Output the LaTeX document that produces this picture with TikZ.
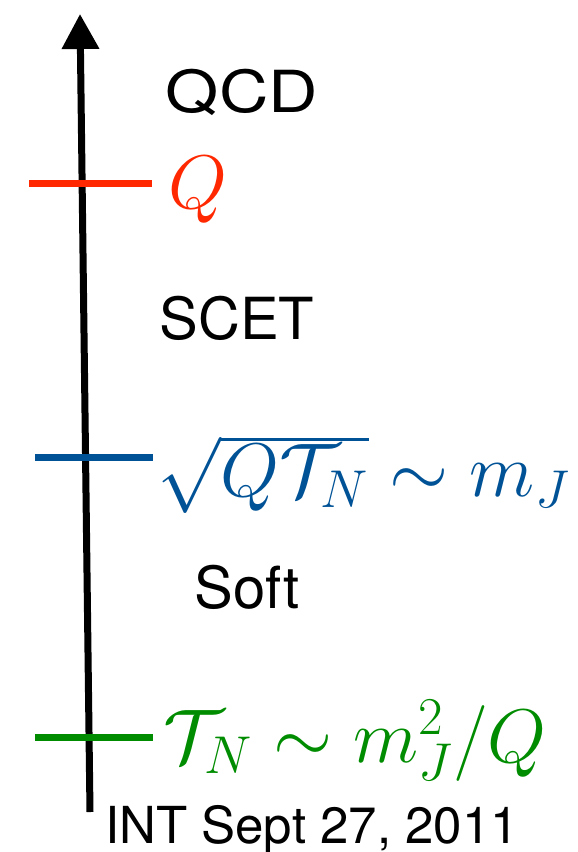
\RequirePackage{fix-cm}
\documentclass[tikz,border=0pt]{standalone}
\usepackage{fontspec}
\setsansfont{TeX Gyre Heros}
\usetikzlibrary{arrows.meta}
\definecolor{qred}{RGB}{255,40,0}
\definecolor{qblue}{RGB}{0,82,150}
\definecolor{qgreen}{RGB}{0,140,0}
\tikzset{
  axis/.style={line width=7pt,-{Triangle[length=35pt,width=36pt]}},
  tick/.style={line width=7pt},
  region/.style={font=\sffamily\fontsize{58}{60}\selectfont,inner sep=0pt},
  scalelab/.style={font=\fontsize{76}{80}\selectfont,inner sep=0pt,anchor=base west},
}
\begin{document}
\begin{tikzpicture}[x=1pt,y=-1pt]
\useasboundingbox (0,0) rectangle (578,852);
\coordinate (bot) at (90,812);
\coordinate (top) at (80,14);
\draw[axis] (bot) -- (top);
\coordinate (r1) at (29,183); \coordinate (r2) at (152,183);
\coordinate (b1) at (35,457); \coordinate (b2) at (153,457);
\coordinate (g1) at (35,737); \coordinate (g2) at (153,737);
\draw[tick,qred] (r1) -- (r2);
\draw[tick,qblue] (b1) -- (b2);
\draw[tick,qgreen] (g1) -- (g2);
\node[region] (qcd) at (242,92) {\scalebox{1.18}[1]{QCD}};
\node[region] (scet) at (237,318) {SCET};
\node[region] (soft) at (247,587) {Soft};
\node[scalelab,text=qred] (lq) at (168,208) {$Q$};
\node[scalelab,text=qblue] (lb) at (157,496) {$\sqrt{Q\mathcal{T}_N}\sim m_J$};
\node[scalelab,text=qgreen] (lg) at (163,762) {$\mathcal{T}_N\sim m_J^2/Q$};
\node[font=\sffamily\fontsize{51}{55}\selectfont,inner sep=0pt,anchor=base] (date) at (312,843) {INT Sept 27, 2011};
\end{tikzpicture}
\end{document}
